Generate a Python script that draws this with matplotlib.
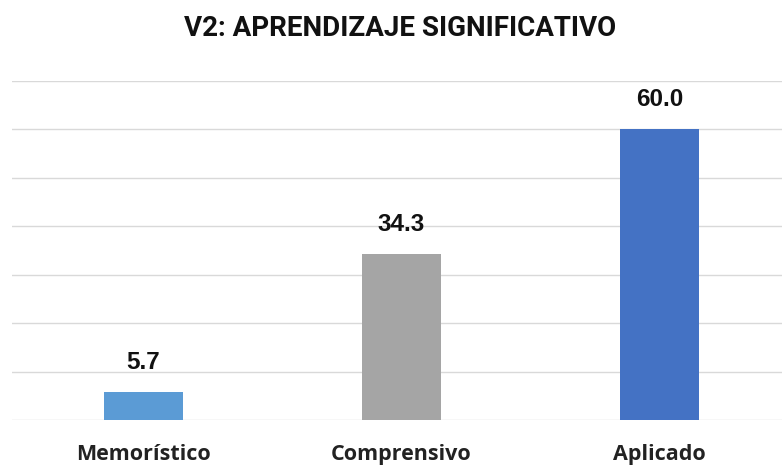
import matplotlib
matplotlib.use("Agg")
import matplotlib.pyplot as plt

categories = ["Memorístico", "Comprensivo", "Aplicado"]
values = [5.7, 34.3, 60.0]
colors = ["#5B9BD5", "#A5A5A5", "#4472C4"]
title = "V2: APRENDIZAJE SIGNIFICATIVO"

W, H = 782, 465
fig = plt.figure(figsize=(W / 100, H / 100), dpi=100)
ax = fig.add_axes([12 / W, 45 / H, (W - 12) / W, (420 - 81) / H])

x = list(range(len(categories)))
ax.bar(x, values, width=0.306, color=colors, zorder=3)
left = -(143.5 - 12) / 258
ax.set_xlim(left, left + (W - 12) / 258)
ax.set_ylim(0, 70)
ax.set_yticks(range(0, 71, 10))
ax.yaxis.grid(True, color="#D9D9D9", linewidth=1.0, zorder=0)
ax.tick_params(axis="y", left=False, labelleft=False)
ax.tick_params(axis="x", length=0, pad=17)
ax.set_xticks(x)
ax.set_xticklabels(categories, fontsize=15.5, fontweight="bold", family="Open Sans", color="#222222")
for s in ax.spines.values():
    s.set_visible(False)

for xi, v in zip(x, values):
    ax.annotate(f"{v:.1f}", (xi, v), xytext=(0, 13), textcoords="offset points",
                ha="center", va="bottom", fontsize=17.5, fontweight="bold",
                family="Liberation Sans", color="#111111")

fig.text(400 / W, 1 - 28 / H, title, ha="center", va="center", fontsize=20,
         fontweight="bold", family="Roboto", color="#111111")

fig.savefig("out.png", dpi=100)
